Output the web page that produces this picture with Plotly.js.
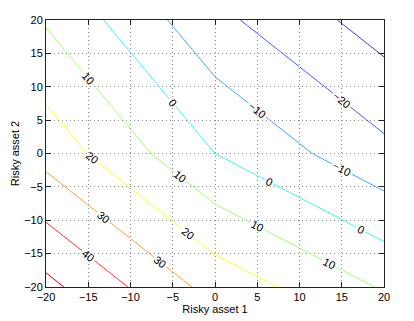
<!DOCTYPE html>
<html>
<head>
<meta charset="utf-8">
<script src="https://cdn.plot.ly/plotly-3.0.1.min.js"></script>
<style>
  body { margin: 0; background: #fff; }
  #plotArea { width: 414px; height: 321px; }
</style>
</head>
<body>
<div id="plotArea"></div>
<script>
// grid of asset weights
const riskyAsset1 = [-20, -15, -10, -5, 0, 5, 10, 15, 20];
const riskyAsset2 = [-20, -15, -10, -5, 0, 5, 10, 15, 20];

// surface value at each grid node, one row per riskyAsset2 value
const surface = [
  [52.8, 46.2, 39.6, 33.0, 26.4, 22.05, 17.7, 13.35, 9.0],
  [46.2, 39.6, 33.0, 26.4, 19.8, 15.45, 11.1, 6.75, 2.4],
  [39.6, 33.0, 26.4, 19.8, 13.2, 8.85, 4.5, 0.15, -4.2],
  [33.0, 26.4, 19.8, 13.2, 6.6, 2.25, -2.1, -6.45, -10.8],
  [26.4, 19.8, 13.2, 6.6, 0, -4.35, -8.7, -13.05, -17.4],
  [22.05, 15.45, 8.85, 2.25, -4.35, -8.7, -13.05, -17.4, -21.75],
  [17.7, 11.1, 4.5, -2.1, -8.7, -13.05, -17.4, -21.75, -26.1],
  [13.35, 6.75, 0.15, -6.45, -13.05, -17.4, -21.75, -26.1, -30.45],
  [9.0, 2.4, -4.2, -10.8, -17.4, -21.75, -26.1, -30.45, -34.8]
];

// contour levels and the jet-like colour of each line
const levels = [-30, -20, -10, 0, 10, 20, 30, 40, 50];
const lineColors = ['#3232c8', '#3b55ff', '#35a0ff', '#2ff5ff', '#9cff6a',
                    '#ffff1a', '#ff9a2e', '#ff2a2a', '#d40000'];

const lo = levels[0];
const hi = levels[levels.length - 1];
const colorscale = levels.map((lv, i) => [(lv - lo) / (hi - lo), lineColors[i]]);

// plotly puts one label on each path, so the grid is cut into column strips
// (sharing their edge columns) to get a label every ~10 units like clabel does
const stripEdges = [[0, 2], [2, 4], [4, 6], [6, 8]];

const traces = stripEdges.map(([c0, c1]) => ({
  type: 'contour',
  x: riskyAsset1.slice(c0, c1 + 1),
  y: riskyAsset2,
  z: surface.map(row => row.slice(c0, c1 + 1)),
  zauto: false,
  zmin: lo,
  zmax: hi,
  colorscale: colorscale,
  showscale: false,
  autocontour: false,
  contours: {
    start: lo,
    end: hi,
    size: 10,
    coloring: 'lines',
    showlabels: true,
    labelfont: { family: 'Liberation Sans, Arial, sans-serif', size: 11, color: '#000' }
  },
  line: { width: 1, smoothing: 0 },
  hoverinfo: 'skip'
}));

const axisStyle = {
  range: [-20, 20],
  dtick: 5,
  tick0: -20,
  ticks: 'inside',
  ticklen: 5,
  tickcolor: '#222',
  showline: true,
  linecolor: '#222',
  linewidth: 1,
  mirror: 'ticks',
  showgrid: true,
  gridcolor: '#8c8c8c',
  griddash: '1px,3px',
  gridwidth: 1,
  zeroline: false,
  tickfont: { size: 11, color: '#000' }
};

const layout = {
  width: 414,
  height: 321,
  margin: { l: 46, r: 30, t: 20, b: 34 },
  paper_bgcolor: '#fff',
  plot_bgcolor: '#fff',
  font: { family: 'Liberation Sans, Arial, sans-serif', size: 11, color: '#000' },
  showlegend: false,
  xaxis: Object.assign({}, axisStyle, {
    title: { text: 'Risky asset 1', font: { size: 11 }, standoff: 2 }
  }),
  yaxis: Object.assign({}, axisStyle, {
    title: { text: 'Risky asset 2', font: { size: 11 }, standoff: 2 }
  })
};

Plotly.newPlot('plotArea', traces, layout, { staticPlot: true });
</script>
</body>
</html>
